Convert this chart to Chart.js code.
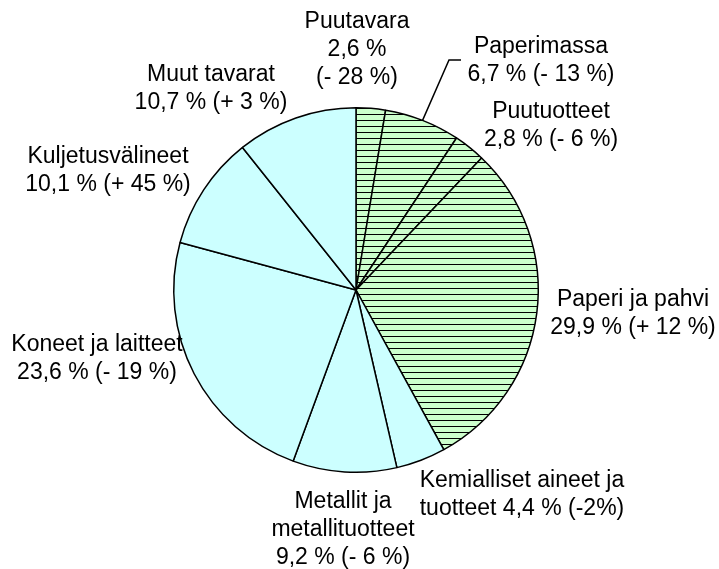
<!DOCTYPE html>
<html>
<head>
<meta charset="utf-8">
<script src="https://cdn.jsdelivr.net/npm/chart.js@4/dist/chart.umd.min.js"></script>
<style>
  html, body { margin: 0; padding: 0; background: #fff; }
  #wrap { width: 719px; height: 569px; }
</style>
</head>
<body>
<div id="wrap"><canvas id="chartPie" width="719" height="569"></canvas></div>
<script>
const categories = ["Puutavara", "Paperimassa", "Puutuotteet", "Paperi ja pahvi",
  "Kemialliset aineet ja tuotteet", "Metallit ja metallituotteet",
  "Koneet ja laitteet", "Kuljetusvälineet", "Muut tavarat"];
const shares = [2.6, 6.7, 2.8, 29.9, 4.4, 9.2, 23.6, 10.1, 10.7];
const changes = ["(- 28 %)", "(- 13 %)", "(- 6 %)", "(+ 12 %)", "(-2%)", "(- 6 %)", "(- 19 %)", "(+ 45 %)", "(+ 3 %)"];
const forestGroup = [true, true, true, true, false, false, false, false, false];

const pct = i => shares[i].toFixed(1).replace(".", ",") + " %";

const labelLines = [
  ["Puutavara", pct(0), changes[0]],
  ["Paperimassa", pct(1) + " " + changes[1]],
  ["Puutuotteet", pct(2) + " " + changes[2]],
  ["Paperi ja pahvi", pct(3) + " " + changes[3]],
  ["Kemialliset aineet ja", "tuotteet " + pct(4) + " " + changes[4]],
  ["Metallit ja", "metallituotteet", pct(5) + " " + changes[5]],
  ["Koneet ja laitteet", pct(6) + " " + changes[6]],
  ["Kuljetusvälineet", pct(7) + " " + changes[7]],
  ["Muut tavarat", pct(8) + " " + changes[8]]
];

// hatched green fill (horizontal lines)
function hatchPattern() {
  const c = document.createElement("canvas");
  c.width = 8; c.height = 6;
  const g = c.getContext("2d");
  g.fillStyle = "#ccffcc";
  g.fillRect(0, 0, 8, 6);
  g.fillStyle = "#000";
  g.fillRect(0, 0, 8, 1);
  return g.createPattern(c, "repeat");
}
const hatch = hatchPattern();

// label anchors (center x, first line y)
const labelPos = [[357, 22], [541, 47], [551, 112], [633, 300], [522, 481],
  [343, 502], [97, 345], [108, 157], [211, 75]];

const labelPlugin = {
  id: "pieLabels",
  afterDatasetsDraw(chart) {
    const ctx = chart.ctx;
    ctx.save();
    ctx.font = "23px 'Liberation Sans', Arial, sans-serif";
    ctx.fillStyle = "#000";
    ctx.textAlign = "center";
    ctx.textBaseline = "middle";
    labelLines.forEach((lines, i) => {
      const [x, y] = labelPos[i];
      lines.forEach((t, k) => ctx.fillText(t, x, y + k * 28));
    });
    // leader line for Paperimassa
    const arc = chart.getDatasetMeta(0).data[1];
    const p = arc.getProps(["x", "y", "startAngle", "endAngle", "outerRadius"], true);
    const mid = (p.startAngle + p.endAngle) / 2;
    ctx.strokeStyle = "#000";
    ctx.lineWidth = 1.5;
    ctx.beginPath();
    ctx.moveTo(p.x + Math.cos(mid) * p.outerRadius, p.y + Math.sin(mid) * p.outerRadius);
    ctx.lineTo(449, 60);
    ctx.lineTo(461, 60);
    ctx.stroke();
    ctx.restore();
  }
};

new Chart(document.getElementById("chartPie").getContext("2d"), {
  type: "pie",
  data: {
    labels: categories,
    datasets: [{
      data: shares,
      backgroundColor: forestGroup.map(f => f ? hatch : "#ccffff"),
      borderColor: "#000",
      borderWidth: 1.5
    }]
  },
  options: {
    responsive: false,
    animation: false,
    layout: { padding: { left: 173, right: 180, top: 105, bottom: 94 } },
    plugins: {
      legend: { display: false },
      tooltip: { enabled: false }
    }
  },
  plugins: [labelPlugin]
});
</script>
</body>
</html>
